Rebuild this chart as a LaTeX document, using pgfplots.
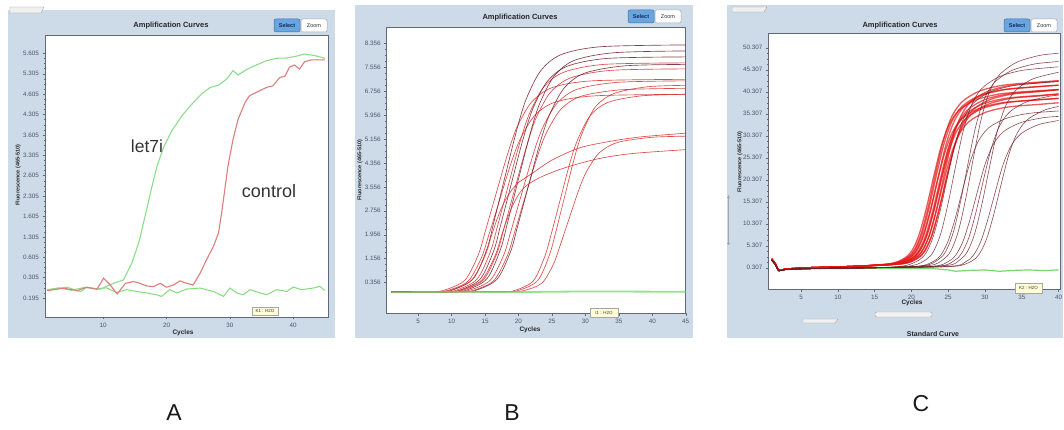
\documentclass[border=0pt]{standalone}
\usepackage{pgfplots}
\pgfplotsset{compat=1.18}
\usepackage{fontspec}
\setmainfont{Liberation Sans}

\definecolor{panelbg}{RGB}{205,219,233}
\definecolor{axisgray}{RGB}{95,105,120}
\definecolor{ticktext}{RGB}{75,85,105}
\definecolor{ctrlred}{RGB}{222,125,125}
\definecolor{letgreen}{RGB}{140,222,140}
\definecolor{ntcgreen}{RGB}{120,215,110}
\definecolor{curvered}{RGB}{215,45,45}
\definecolor{curvedark}{RGB}{110,30,40}
\definecolor{bundlered}{RGB}{230,20,20}
\definecolor{selectblue}{RGB}{105,165,222}
\definecolor{tipyellow}{RGB}{255,252,215}

\pgfplotsset{
  lcpanel/.style={
    scale only axis, anchor=south west,
    axis background/.style={fill=white},
    axis line style={draw=axisgray, line width=0.6pt},
    tick style={draw=axisgray, line width=0.4pt},
    major tick length=2.5pt, minor tick length=1.4pt,
    tick align=outside, xtick pos=bottom, ytick pos=left,
    tick label style={font=\fontsize{6.3}{7}\selectfont, text=ticktext},
    /pgf/number format/assume math mode=true,
    minor y tick num=3,
  },
  rc/.style={smooth, tension=0.5, line width=0.65pt, curvered, opacity=0.85},
  dc/.style={smooth, tension=0.5, line width=0.65pt, curvedark, opacity=0.85},
  bc/.style={smooth, tension=0.5, line width=1.3pt, bundlered, opacity=0.7},
  cd/.style={smooth, tension=0.5, line width=0.6pt, curvedark, opacity=0.8},
}

\begin{document}
\begin{tikzpicture}
\path[use as bounding box] (0,0) rectangle (1064pt,430pt);
\fill[white] (0,0) rectangle (1064pt,430pt);
% panels
\fill[panelbg] (8pt,92pt) rectangle (335pt,420pt);
\fill[panelbg] (355pt,92pt) rectangle (693pt,425pt);
\fill[panelbg] (727pt,92pt) rectangle (1063pt,425pt);
% tabs
\filldraw[fill=gray!12, draw=gray!75, line width=0.4pt] (10pt,417pt) -- (10pt,423pt) -- (44pt,423pt) -- (41pt,417pt) -- cycle;
\filldraw[fill=gray!12, draw=gray!75, line width=0.4pt] (732pt,418pt) -- (732pt,423pt) -- (767pt,423pt) -- (764pt,418pt) -- cycle;
\filldraw[fill=gray!12, draw=gray!75, line width=0.4pt] (803pt,107pt) -- (803pt,111pt) -- (838pt,111pt) -- (835pt,107pt) -- cycle;
\filldraw[fill=gray!10, draw=gray!70, line width=0.4pt, rounded corners=1.5pt] (875pt,113pt) rectangle (932pt,118pt);
\draw[gray!70, line width=0.5pt] (728.5pt,185pt) -- (728.5pt,235pt);
\draw[gray!70, line width=0.8pt] (727pt,187pt) -- (730pt,187pt) (727pt,233pt) -- (730pt,233pt);

%================ A =================
\begin{axis}[lcpanel, at={(45pt,113pt)}, width=283pt, height=282pt,
  xmin=0.8, xmax=45.5, ymin=-0.93, ymax=12.9,
  xtick={10,20,30,40},
  ytick={0,1,2,3,4,5,6,7,8,9,10,11,12},
  yticklabels={0.195,0.305,0.605,1.305,1.605,2.305,2.605,3.305,3.605,4.305,4.605,5.305,5.605}]
\addplot[ntcgreen, line width=1pt, opacity=0.9] coordinates {
(1.1,0.40)(3,0.50)(5,0.38)(7,0.52)(9,0.45)(10.5,0.50)(12.1,0.27)(13.7,0.41)(15.3,0.32)(16.9,0.25)(18.4,0.16)(19.2,0.08)(20.5,0.41)(21.6,0.25)(23.2,0.44)(25.3,0.49)(27.4,0.32)(29.0,0.08)(30.0,0.49)(31.1,0.25)(32.1,0.16)(33.2,0.41)(34.8,0.25)(35.8,0.16)(37.4,0.41)(39.0,0.32)(40.0,0.54)(41.3,0.41)(43.2,0.49)(44.2,0.57)(45.0,0.37)};
\addplot[letgreen, line width=1.1pt] coordinates {
(1.1,0.40)(4.3,0.53)(6.4,0.31)(7.4,0.53)(9.5,0.43)(11.6,0.72)(13.2,0.89)(14.5,1.71)(15.6,2.70)(16.6,4.00)(17.7,5.48)(18.5,6.47)(19.5,7.37)(20.8,8.19)(22.4,8.93)(24.0,9.51)(25.5,10.00)(26.9,10.33)(28.2,10.44)(29.5,10.74)(30.5,11.15)(31.3,10.94)(32.6,11.20)(34.2,11.43)(35.8,11.64)(37.4,11.76)(38.9,11.77)(40.5,11.86)(41.8,11.97)(43.4,11.89)(45.0,11.76)};
\addplot[ctrlred, line width=1.1pt] coordinates {
(1.1,0.36)(3.75,0.48)(5.9,0.36)(7.4,0.53)(9.0,0.43)(10.05,0.97)(11.1,0.64)(12.2,0.20)(13.5,0.72)(14.8,0.81)(15.8,0.72)(16.9,0.59)(17.9,0.56)(19.0,0.72)(20.0,0.53)(21.1,0.64)(22.1,0.84)(23.2,0.72)(24.2,0.64)(25.3,1.22)(26.3,1.87)(27.4,2.53)(28.2,3.19)(28.7,4.17)(29.2,5.32)(29.7,6.47)(30.5,7.78)(31.3,8.77)(32.4,9.59)(33.1,9.92)(34.2,10.09)(35.8,10.33)(36.8,10.41)(37.9,10.82)(38.7,10.87)(39.4,11.32)(40.2,11.43)(41.0,11.23)(41.8,11.59)(42.9,11.68)(45.0,11.68)};
\end{axis}

%================ B =================
\begin{axis}[lcpanel, at={(386.7pt,116.7pt)}, width=299pt, height=286pt,
  xmin=0.3, xmax=45, ymin=-0.67, ymax=8.89,
  xtick={5,10,15,20,25,30,35,40,45},
  ytick={0.356,1.156,1.956,2.756,3.556,4.356,5.156,5.956,6.756,7.556,8.356},
  yticklabels={0.356,1.156,1.956,2.756,3.556,4.356,5.156,5.956,6.756,7.556,8.356}]
\addplot[rc] coordinates {(1,0.05)(7,0.05)(9,0.11)(12,0.44)(14,1.29)(15,2.04)(16,2.82)(17,3.60)(18,4.38)(19,5.09)(20,5.66)(22,6.40)(25,6.87)(31,7.10)(45,7.15)};
\addplot[rc] coordinates {(1,0.05)(7.5,0.05)(9.5,0.10)(12.5,0.41)(14.5,1.21)(15.5,1.90)(16.5,2.62)(17.5,3.35)(18.5,4.08)(19.5,4.74)(20.5,5.26)(22.5,5.96)(25.5,6.39)(31.5,6.60)(45,6.65)};
\addplot[dc] coordinates {(1,0.05)(8.3,0.05)(10.3,0.12)(13.3,0.50)(15.3,1.49)(16.3,2.36)(17.3,3.27)(18.3,4.18)(19.3,5.08)(20.3,5.91)(21.3,6.57)(23.3,7.43)(26.3,7.97)(32.3,8.24)(45,8.30)};
\addplot[rc] coordinates {(1,0.05)(8.8,0.05)(10.8,0.11)(13.8,0.47)(15.8,1.39)(16.8,2.19)(17.8,3.03)(18.8,3.88)(19.8,4.72)(20.8,5.48)(21.8,6.09)(23.8,6.90)(26.8,7.39)(32.8,7.65)(45,7.70)};
\addplot[dc] coordinates {(1,0.05)(9.3,0.05)(11.3,0.11)(14.3,0.48)(16.3,1.42)(17.3,2.25)(18.3,3.11)(19.3,3.98)(20.3,4.84)(21.3,5.62)(22.3,6.25)(24.3,7.08)(27.3,7.59)(33.3,7.85)(45,7.90)};
\addplot[rc] coordinates {(1,0.05)(9.8,0.05)(11.8,0.11)(14.8,0.46)(16.8,1.35)(17.8,2.14)(18.8,2.96)(19.8,3.78)(20.8,4.60)(21.8,5.34)(22.8,5.94)(24.8,6.72)(27.8,7.20)(33.8,7.45)(45,7.50)};
\addplot[dc] coordinates {(1,0.05)(10.3,0.05)(12.3,0.11)(15.3,0.49)(17.3,1.46)(18.3,2.30)(19.3,3.19)(20.3,4.08)(21.3,4.96)(22.3,5.77)(23.3,6.41)(25.3,7.25)(28.3,7.78)(34.3,8.04)(45,8.10)};
\addplot[rc] coordinates {(1,0.05)(10.8,0.05)(12.8,0.11)(15.8,0.44)(17.8,1.28)(18.8,2.02)(19.8,2.80)(20.8,3.58)(21.8,4.35)(22.8,5.06)(23.8,5.62)(25.8,6.36)(28.8,6.82)(34.8,7.05)(45,7.10)};
\addplot[rc] coordinates {(1,0.05)(11.3,0.05)(13.3,0.10)(16.3,0.42)(18.3,1.24)(19.3,1.95)(20.3,2.70)(21.3,3.45)(22.3,4.20)(23.3,4.88)(24.3,5.42)(26.3,6.14)(29.3,6.58)(35.3,6.80)(45,6.85)};
\addplot[dc] coordinates {(1,0.05)(11.8,0.05)(13.8,0.11)(16.8,0.47)(18.8,1.38)(19.8,2.18)(20.8,3.01)(21.8,3.85)(22.8,4.69)(23.8,5.45)(24.8,6.05)(26.8,6.85)(29.8,7.35)(35.8,7.60)(45,7.65)};
\addplot[rc] coordinates {(1,0.05)(8,0.05)(10,0.11)(13,0.44)(15,1.25)(16,1.95)(17,2.60)(18,3.10)(19,3.45)(20,3.70)(22,4.00)(25,4.45)(29,4.85)(33,5.05)(38,5.22)(45,5.35)};
\addplot[rc] coordinates {(1,0.05)(9.5,0.05)(11.5,0.11)(14.5,0.44)(16.5,1.25)(17.5,1.95)(18.5,2.60)(19.5,3.10)(20.5,3.45)(21.5,3.65)(23.5,3.90)(27,4.20)(32,4.50)(37,4.67)(45,4.80)};
\addplot[rc] coordinates {(1,0.05)(17,0.05)(19.5,0.10)(22.2,0.41)(23.9,1.21)(24.8,1.90)(25.65,2.62)(26.5,3.35)(27.35,4.08)(28.2,4.74)(29.1,5.26)(30.8,5.96)(33.5,6.39)(38.5,6.60)(45,6.65)};
\addplot[rc] coordinates {(1,0.05)(17.5,0.05)(20.2,0.11)(22.9,0.43)(24.6,1.26)(25.5,1.98)(26.35,2.74)(27.2,3.50)(28.05,4.26)(28.9,4.95)(29.8,5.50)(31.5,6.23)(34.2,6.67)(39.2,6.90)(45,6.95)};
\addplot[rc] coordinates {(1,0.05)(18,0.05)(20.8,0.09)(23.5,0.34)(25.2,0.96)(26.1,1.51)(26.95,2.08)(27.8,2.65)(28.65,3.22)(29.5,3.74)(30.4,4.16)(32.1,4.70)(34.8,5.04)(39.8,5.21)(45,5.25)};
\addplot[ntcgreen, line width=1.8pt, opacity=0.75] coordinates {(1,0.03)(10,0.05)(20,0.04)(30,0.06)(45,0.05)};
\end{axis}

%================ C =================
\begin{axis}[lcpanel, at={(768.3pt,140.7pt)}, width=291.7pt, height=256pt,
  xmin=0.55, xmax=40.2, ymin=-4.6, ymax=53.6,
  xtick={5,10,15,20,25,30,35,40},
  ytick={0.307,5.307,10.307,15.307,20.307,25.307,30.307,35.307,40.307,45.307,50.307},
  yticklabels={0.307,5.307,10.307,15.307,20.307,25.307,30.307,35.307,40.307,45.307,50.307}]
\addplot[ntcgreen, line width=1.2pt] coordinates {(1,2.0)(1.5,1.0)(2,-0.4)(3,-0.1)(8,0.1)(15,0.2)(20,0.2)(23,0.1)(25,-0.2)(26,-0.5)(28,-0.3)(30,-0.2)(32,-0.5)(34,-0.3)(36,-0.2)(38,-0.35)(40,-0.2)};
% bundle
\addplot[bc] coordinates {(1,2.3)(1.5,1.2)(2,-0.3)(3,0.0)(6,0.3)(12,0.6)(17,1.2)(19,2.4)(20,4.0)(21,7.6)(22,13.6)(23,20.8)(24,27.6)(25,32.4)(26,35.2)(27,36.8)(29,38.6)(32,39.8)(36,40.4)(40,40.8)};
\addplot[bc] coordinates {(1,2.3)(1.5,1.2)(2,-0.3)(3,0.0)(6,0.3)(12,0.6)(17.3,1.22)(19.3,2.48)(20.3,4.16)(21.3,7.94)(22.3,14.24)(23.3,21.8)(24.3,28.94)(25.3,33.98)(26.3,36.92)(27.3,38.6)(29.3,40.49)(32.3,41.75)(36.3,42.38)(40,42.8)};
\addplot[bc] coordinates {(1,2.3)(1.5,1.2)(2,-0.3)(3,0.0)(6,0.3)(12,0.6)(17.5,1.18)(19.5,2.32)(20.5,3.84)(21.5,7.26)(22.5,12.96)(23.5,19.8)(24.5,26.26)(25.5,30.82)(26.5,33.48)(27.5,35.0)(29.5,36.71)(32.5,37.85)(36.5,38.42)(40,38.8)};
\addplot[bc] coordinates {(1,2.3)(1.5,1.2)(2,-0.3)(3,0.0)(6,0.3)(12,0.6)(17.7,1.21)(19.7,2.44)(20.7,4.08)(21.7,7.77)(22.7,13.92)(23.7,21.3)(24.7,28.27)(25.7,33.19)(26.7,36.06)(27.7,37.7)(29.7,39.55)(32.7,40.78)(36.7,41.39)(40,41.8)};
\addplot[bc] coordinates {(1,2.3)(1.5,1.2)(2,-0.3)(3,0.0)(6,0.3)(12,0.6)(17.9,1.19)(19.9,2.36)(20.9,3.92)(21.9,7.43)(22.9,13.28)(23.9,20.3)(24.9,26.93)(25.9,31.61)(26.9,34.34)(27.9,35.9)(29.9,37.66)(32.9,38.83)(36.9,39.41)(40,39.8)};
\addplot[bc] coordinates {(1,2.3)(1.5,1.2)(2,-0.3)(3,0.0)(6,0.3)(12,0.6)(18.1,1.2)(20.1,2.4)(21.1,4.0)(22.1,7.6)(23.1,13.6)(24.1,20.8)(25.1,27.6)(26.1,32.4)(27.1,35.2)(28.1,36.8)(30.1,38.6)(33.1,39.8)(37.1,40.4)(40,40.8)};
\addplot[bc] coordinates {(1,2.3)(1.5,1.2)(2,-0.3)(3,0.0)(6,0.3)(12,0.6)(18.3,1.17)(20.3,2.28)(21.3,3.76)(22.3,7.09)(23.3,12.64)(24.3,19.3)(25.3,25.59)(26.3,30.03)(27.3,32.62)(28.3,34.1)(30.3,35.77)(33.3,36.88)(37.3,37.43)(40,37.8)};
\addplot[bc] coordinates {(1,2.3)(1.5,1.2)(2,-0.3)(3,0.0)(6,0.3)(12,0.6)(18.5,1.22)(20.5,2.48)(21.5,4.16)(22.5,7.94)(23.5,14.24)(24.5,21.8)(25.5,28.94)(26.5,33.98)(27.5,36.92)(28.5,38.6)(30.5,40.49)(33.5,41.75)(37.5,42.38)(40,42.8)};
\addplot[bc] coordinates {(1,2.3)(1.5,1.2)(2,-0.3)(3,0.0)(6,0.3)(12,0.6)(18.7,1.19)(20.7,2.36)(21.7,3.92)(22.7,7.43)(23.7,13.28)(24.7,20.3)(25.7,26.93)(26.7,31.61)(27.7,34.34)(28.7,35.9)(30.7,37.66)(33.7,38.83)(37.7,39.41)(40,39.8)};
\addplot[bc] coordinates {(1,2.3)(1.5,1.2)(2,-0.3)(3,0.0)(6,0.3)(12,0.6)(17.4,1.21)(19.4,2.44)(20.4,4.08)(21.4,7.77)(22.4,13.92)(23.4,21.3)(24.4,28.27)(25.4,33.19)(26.4,36.06)(27.4,37.7)(29.4,39.55)(32.4,40.78)(36.4,41.39)(40,41.8)};
\addplot[bc] coordinates {(1,2.3)(1.5,1.2)(2,-0.3)(3,0.0)(6,0.3)(12,0.6)(18,1.18)(20,2.32)(21,3.84)(22,7.26)(23,12.96)(24,19.8)(25,26.26)(26,30.82)(27,33.48)(28,35.0)(30,36.71)(33,37.85)(37,38.42)(40,38.8)};
\addplot[bc] coordinates {(1,2.3)(1.5,1.2)(2,-0.3)(3,0.0)(6,0.3)(12,0.6)(18.8,1.2)(20.8,2.4)(21.8,4.0)(22.8,7.6)(23.8,13.6)(24.8,20.8)(25.8,27.6)(26.8,32.4)(27.8,35.2)(28.8,36.8)(30.8,38.6)(33.8,39.8)(37.8,40.4)(40,40.8)};
% later dark curves
\addplot[cd] coordinates {(1,2.0)(1.5,1.0)(2,-0.4)(3,-0.1)(8,0.15)(15,0.3)(19,0.73)(21,2.0)(22,3.7)(23,7.53)(24,13.9)(25,21.55)(26,28.78)(27,33.88)(28,36.85)(29,38.55)(31,40.46)(34,41.74)(38,42.38)(40,42.59)};
\addplot[cd] coordinates {(1,2.0)(1.5,1.0)(2,-0.4)(3,-0.1)(8,0.15)(15,0.3)(20,0.76)(22,2.14)(23,3.98)(24,8.12)(25,15.02)(26,23.3)(27,31.12)(28,36.64)(29,39.86)(30,41.7)(32,43.77)(35,45.15)(39,45.84)(40,45.98)};
\addplot[cd] coordinates {(1,2.0)(1.5,1.0)(2,-0.4)(3,-0.1)(8,0.15)(15,0.3)(21,0.66)(23,1.74)(24,3.18)(25,6.42)(26,11.82)(27,18.3)(28,24.42)(29,28.74)(30,31.26)(31,32.7)(33,34.32)(36,35.4)(40,35.94)};
\addplot[cd] coordinates {(1,2.0)(1.5,1.0)(2,-0.4)(3,-0.1)(8,0.15)(15,0.3)(21.7,0.78)(23.7,2.2)(24.7,4.1)(25.7,8.38)(26.7,15.5)(27.7,24.05)(28.7,32.13)(29.7,37.83)(30.7,41.15)(31.7,43.05)(33.7,45.19)(36.7,46.61)(40,47.18)};
\addplot[cd] coordinates {(1,2.0)(1.5,1.0)(2,-0.4)(3,-0.1)(8,0.15)(15,0.3)(22.4,0.8)(24.4,2.28)(25.4,4.26)(26.4,8.72)(27.4,16.14)(28.4,25.05)(29.4,33.47)(30.4,39.41)(31.4,42.87)(32.4,44.85)(34.4,47.08)(37.4,48.56)(40,49.06)};
\addplot[cd] coordinates {(1,2.0)(1.5,1.0)(2,-0.4)(3,-0.1)(8,0.15)(15,0.3)(23,0.65)(25,1.7)(26,3.1)(27,6.25)(28,11.5)(29,17.8)(30,23.75)(31,27.95)(32,30.4)(33,31.8)(35,33.38)(38,34.43)(40,34.7)};
\addplot[cd] coordinates {(1,2.0)(1.5,1.0)(2,-0.4)(3,-0.1)(8,0.15)(15,0.3)(23.8,0.7)(25.8,1.9)(26.8,3.5)(27.8,7.1)(28.8,13.1)(29.8,20.3)(30.8,27.1)(31.8,31.9)(32.8,34.7)(33.8,36.3)(35.8,38.1)(38.8,39.3)(40,39.5)};
\addplot[cd] coordinates {(1,2.0)(1.5,1.0)(2,-0.4)(3,-0.1)(8,0.15)(15,0.3)(24.6,0.76)(26.6,2.12)(27.6,3.94)(28.6,8.04)(29.6,14.86)(30.6,23.05)(31.6,30.79)(32.6,36.25)(33.6,39.43)(34.6,41.25)(36.6,43.3)(40,44.75)};
\addplot[cd] coordinates {(1,2.0)(1.5,1.0)(2,-0.4)(3,-0.1)(8,0.15)(15,0.3)(25.4,0.65)(27.4,1.68)(28.4,3.06)(29.4,6.17)(30.4,11.34)(31.4,17.55)(32.4,23.42)(33.4,27.56)(34.4,29.97)(35.4,31.35)(37.4,32.9)(40,33.77)};
\addplot[cd] coordinates {(1,2.0)(1.5,1.0)(2,-0.4)(3,-0.1)(8,0.15)(15,0.3)(21,0.35)(26.2,0.68)(28.2,1.82)(29.2,3.34)(30.2,6.76)(31.2,12.46)(32.2,19.3)(33.2,25.76)(34.2,30.32)(35.2,32.98)(36.2,34.5)(38.2,36.21)(40,36.97)};
\end{axis}

% titles, buttons, labels
\foreach \cx/\cy in {171/404, 520/412.7, 900/404}{
  \node[font=\fontsize{7.5}{8}\selectfont\bfseries, text=black!85] at (\cx pt,\cy pt) {Amplification Curves};
}
\foreach \sx/\sy in {274/398, 628/407, 1004/398}{
  \filldraw[fill=selectblue, draw={rgb,255:red,60;green,110;blue,170}, line width=0.5pt, rounded corners=2pt] (\sx pt,\sy pt) rectangle ++(26pt,13pt);
  \node[font=\fontsize{5.5}{6}\selectfont\bfseries, text={rgb,255:red,20;green,40;blue,90}] at (\sx pt+13pt,\sy pt+6.5pt) {Select};
  \filldraw[fill=white, draw=gray!70, line width=0.5pt, rounded corners=2pt] (\sx pt+27pt,\sy pt) rectangle ++(26pt,13pt);
  \node[font=\fontsize{5.5}{6}\selectfont, text=black!80] at (\sx pt+40pt,\sy pt+6.5pt) {Zoom};
}
\node[font=\fontsize{6.5}{7}\selectfont\bfseries, text=black!85] at (183pt,97pt) {Cycles};
\node[font=\fontsize{6.5}{7}\selectfont\bfseries, text=black!85] at (530pt,100pt) {Cycles};
\node[font=\fontsize{6.5}{7}\selectfont\bfseries, text=black!85] at (912pt,126.7pt) {Cycles};
\node[rotate=90, font=\fontsize{5.5}{6}\selectfont\bfseries, text=black!85] at (18.3pt,255pt) {Fluorescence (465-510)};
\node[rotate=90, font=\fontsize{5.5}{6}\selectfont\bfseries, text=black!85] at (360pt,260pt) {Fluorescence (465-510)};
\node[rotate=90, font=\fontsize{5.5}{6}\selectfont\bfseries, text=black!85] at (740pt,268pt) {Fluorescence (465-510)};
\node[font=\fontsize{7}{8}\selectfont\bfseries, text=black!85] at (933pt,96pt) {Standard Curve};
% tooltips
\filldraw[fill=tipyellow, draw=gray!70, line width=0.4pt] (252pt,115pt) rectangle (278pt,123pt);
\node[font=\fontsize{4.5}{5}\selectfont, text=black!75] at (265pt,119pt) {K1 : H2O};
\filldraw[fill=tipyellow, draw=gray!70, line width=0.4pt] (590pt,113pt) rectangle (618pt,122pt);
\node[font=\fontsize{4.5}{5}\selectfont, text=black!75] at (604pt,117.5pt) {I1 : H2O};
\filldraw[fill=tipyellow, draw=gray!70, line width=0.4pt] (1015pt,137pt) rectangle (1042pt,147pt);
\node[font=\fontsize{4.5}{5}\selectfont, text=black!75] at (1028.5pt,142pt) {K2 : H2O};
% curve names
\node[font=\fontsize{17.5}{18}\selectfont, text=black!80] at (147pt,283.5pt) {let7i};
\node[font=\fontsize{18}{19}\selectfont, text=black!80] at (269pt,239pt) {control};
% panel letters
\node[font=\fontsize{23}{24}\selectfont, text=black!90] at (174pt,17pt) {A};
\node[font=\fontsize{23}{24}\selectfont, text=black!90] at (512pt,17pt) {B};
\node[font=\fontsize{23}{24}\selectfont, text=black!90] at (921pt,26pt) {C};
\end{tikzpicture}
\end{document}
